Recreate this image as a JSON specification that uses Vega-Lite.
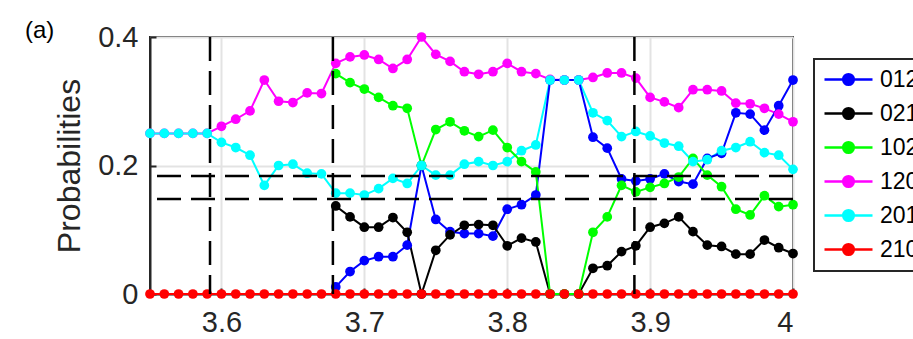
{
  "$schema": "https://vega.github.io/schema/vega-lite/v6.json",
  "width": 643,
  "height": 257,
  "autosize": {"type": "none"},
  "padding": {"left": 150, "top": 37, "right": 120, "bottom": 45},
  "background": "white",
  "title": {"text": "(a)", "anchor": "start", "frame": "group", "fontSize": 24, "fontWeight": "normal", "font": "Liberation Sans", "color": "#000000", "baseline": "alphabetic", "offset": 0, "dx": -125, "dy": 39},
  "config": {
    "font": "Liberation Sans",
    "view": {"stroke": "#262626", "strokeWidth": 2},
    "axis": {
      "labelFontSize": 29,
      "labelColor": "#262626",
      "domainColor": "#262626",
      "domainWidth": 2,
      "tickColor": "#262626",
      "tickWidth": 2,
      "tickSize": -6,
      "grid": true,
      "gridColor": "#e3e3e3",
      "gridWidth": 2,
      "titleFontWeight": "normal",
      "titleColor": "#262626"
    },
    "legend": {
      "orient": "none",
      "legendX": 664,
      "legendY": 22,
      "strokeColor": "#262626",
      "strokeWidth": 2,
      "fillColor": "white",
      "padding": 9,
      "labelFontSize": 23,
      "labelColor": "#000000",
      "labelOffset": 34,
      "rowPadding": 10,
      "symbolType": "M-1,0L3.8,0M0.87,0A0.53,0.53,0,1,1,1.93,0A0.53,0.53,0,1,1,0.87,0Z",
      "symbolSize": 400,
      "symbolStrokeWidth": 2.5
    }
  },
  "datasets": {
    "probs": [
      {"x": 3.55, "012": null, "021": null, "102": null, "120": 0.25, "201": 0.25, "210": 0},
      {"x": 3.56, "012": null, "021": null, "102": null, "120": 0.25, "201": 0.25, "210": 0},
      {"x": 3.57, "012": null, "021": null, "102": null, "120": 0.25, "201": 0.25, "210": 0},
      {"x": 3.58, "012": null, "021": null, "102": null, "120": 0.25, "201": 0.25, "210": 0},
      {"x": 3.59, "012": null, "021": null, "102": null, "120": 0.25, "201": 0.25, "210": 0},
      {"x": 3.60, "012": null, "021": null, "102": null, "120": 0.261, "201": 0.236, "210": 0},
      {"x": 3.61, "012": null, "021": null, "102": null, "120": 0.272, "201": 0.228, "210": 0},
      {"x": 3.62, "012": null, "021": null, "102": null, "120": 0.285, "201": 0.216, "210": 0},
      {"x": 3.63, "012": null, "021": null, "102": null, "120": 0.333, "201": 0.169, "210": 0},
      {"x": 3.64, "012": null, "021": null, "102": null, "120": 0.300, "201": 0.200, "210": 0},
      {"x": 3.65, "012": null, "021": null, "102": null, "120": 0.298, "201": 0.202, "210": 0},
      {"x": 3.66, "012": null, "021": null, "102": null, "120": 0.313, "201": 0.188, "210": 0},
      {"x": 3.67, "012": null, "021": null, "102": null, "120": 0.312, "201": 0.187, "210": 0},
      {"x": 3.68, "012": 0.011, "021": 0.137, "102": 0.343, "120": 0.359, "201": 0.157, "210": 0},
      {"x": 3.69, "012": 0.035, "021": 0.120, "102": 0.329, "120": 0.369, "201": 0.157, "210": 0},
      {"x": 3.70, "012": 0.052, "021": 0.104, "102": 0.319, "120": 0.372, "201": 0.154, "210": 0},
      {"x": 3.71, "012": 0.058, "021": 0.104, "102": 0.306, "120": 0.365, "201": 0.164, "210": 0},
      {"x": 3.72, "012": 0.058, "021": 0.119, "102": 0.293, "120": 0.351, "201": 0.180, "210": 0},
      {"x": 3.73, "012": 0.076, "021": 0.096, "102": 0.289, "120": 0.365, "201": 0.172, "210": 0},
      {"x": 3.74, "012": 0.200, "021": 0, "102": 0.200, "120": 0.400, "201": 0.200, "210": 0},
      {"x": 3.75, "012": 0.116, "021": 0.068, "102": 0.256, "120": 0.373, "201": 0.185, "210": 0},
      {"x": 3.76, "012": 0.097, "021": 0.092, "102": 0.268, "120": 0.362, "201": 0.185, "210": 0},
      {"x": 3.77, "012": 0.094, "021": 0.107, "102": 0.254, "120": 0.346, "201": 0.202, "210": 0},
      {"x": 3.78, "012": 0.094, "021": 0.108, "102": 0.245, "120": 0.342, "201": 0.206, "210": 0},
      {"x": 3.79, "012": 0.090, "021": 0.107, "102": 0.255, "120": 0.346, "201": 0.200, "210": 0},
      {"x": 3.80, "012": 0.132, "021": 0.075, "102": 0.228, "120": 0.359, "201": 0.206, "210": 0},
      {"x": 3.81, "012": 0.139, "021": 0.087, "102": 0.206, "120": 0.346, "201": 0.223, "210": 0},
      {"x": 3.82, "012": 0.154, "021": 0.081, "102": 0.190, "120": 0.343, "201": 0.232, "210": 0},
      {"x": 3.83, "012": 0.333, "021": 0, "102": 0, "120": 0.334, "201": 0.333, "210": 0},
      {"x": 3.84, "012": 0.333, "021": 0, "102": 0, "120": 0.333, "201": 0.333, "210": 0},
      {"x": 3.85, "012": 0.333, "021": 0, "102": 0, "120": 0.333, "201": 0.333, "210": 0},
      {"x": 3.86, "012": 0.244, "021": 0.040, "102": 0.096, "120": 0.337, "201": 0.282, "210": 0},
      {"x": 3.87, "012": 0.227, "021": 0.044, "102": 0.120, "120": 0.344, "201": 0.270, "210": 0},
      {"x": 3.88, "012": 0.179, "021": 0.066, "102": 0.169, "120": 0.344, "201": 0.245, "210": 0},
      {"x": 3.89, "012": 0.176, "021": 0.075, "102": 0.159, "120": 0.336, "201": 0.253, "210": 0},
      {"x": 3.90, "012": 0.179, "021": 0.104, "102": 0.166, "120": 0.306, "201": 0.246, "210": 0},
      {"x": 3.91, "012": 0.187, "021": 0.110, "102": 0.172, "120": 0.299, "201": 0.235, "210": 0},
      {"x": 3.92, "012": 0.175, "021": 0.120, "102": 0.182, "120": 0.290, "201": 0.230, "210": 0},
      {"x": 3.93, "012": 0.171, "021": 0.097, "102": 0.211, "120": 0.318, "201": 0.206, "210": 0},
      {"x": 3.94, "012": 0.211, "021": 0.076, "102": 0.185, "120": 0.318, "201": 0.209, "210": 0},
      {"x": 3.95, "012": 0.219, "021": 0.074, "102": 0.167, "120": 0.316, "201": 0.223, "210": 0},
      {"x": 3.96, "012": 0.282, "021": 0.062, "102": 0.132, "120": 0.297, "201": 0.228, "210": 0},
      {"x": 3.97, "012": 0.280, "021": 0.062, "102": 0.123, "120": 0.296, "201": 0.237, "210": 0},
      {"x": 3.98, "012": 0.255, "021": 0.084, "102": 0.153, "120": 0.289, "201": 0.220, "210": 0},
      {"x": 3.99, "012": 0.293, "021": 0.072, "102": 0.136, "120": 0.280, "201": 0.216, "210": 0},
      {"x": 4.00, "012": 0.333, "021": 0.063, "102": 0.139, "120": 0.268, "201": 0.194, "210": 0}
    ],
    "vlines": [{"xv": 3.592}, {"xv": 3.678}, {"xv": 3.889}],
    "hlines": [{"yv": 0.1837}, {"yv": 0.148}]
  },
  "layer": [
    {
      "data": {"name": "probs"},
      "transform": [
        {"fold": ["012", "021", "102", "120", "201", "210"], "as": ["series", "value"]},
        {"filter": "isValid(datum.value)"}
      ],
      "mark": {"type": "line", "strokeWidth": 2, "point": {"filled": true, "size": 95, "opacity": 1}},
      "encoding": {
        "x": {
          "field": "x", "type": "quantitative",
          "scale": {"domain": [3.55, 4.0], "nice": false, "zero": false},
          "axis": {"values": [3.6, 3.7, 3.8, 3.9, 4], "format": ".1~f", "title": null, "labelPadding": 20}
        },
        "y": {
          "field": "value", "type": "quantitative",
          "scale": {"domain": [0, 0.4], "nice": false},
          "axis": {"values": [0, 0.2, 0.4], "format": ".1~f", "title": "Probabilities", "titleFontSize": 32, "titlePadding": 11, "labelPadding": 18}
        },
        "color": {
          "field": "series", "type": "nominal",
          "scale": {"domain": ["012", "021", "102", "120", "201", "210"], "range": ["#0000ff", "#000000", "#00ff00", "#ff00ff", "#00ffff", "#ff0000"]},
          "legend": {
            "title": null,
            "encode": {"symbols": {"update": {"fill": {"scale": "color", "field": "value"}, "stroke": {"scale": "color", "field": "value"}}}}
          }
        }
      }
    },
    {
      "data": {"name": "vlines"},
      "mark": {"type": "rule", "color": "#000000", "strokeWidth": 2.5, "strokeDash": [24, 10]},
      "encoding": {"x": {"field": "xv", "type": "quantitative"}}
    },
    {
      "data": {"name": "hlines"},
      "mark": {"type": "rule", "color": "#000000", "strokeWidth": 2.5, "strokeDash": [24, 10]},
      "encoding": {"y": {"field": "yv", "type": "quantitative"}}
    }
  ]
}
